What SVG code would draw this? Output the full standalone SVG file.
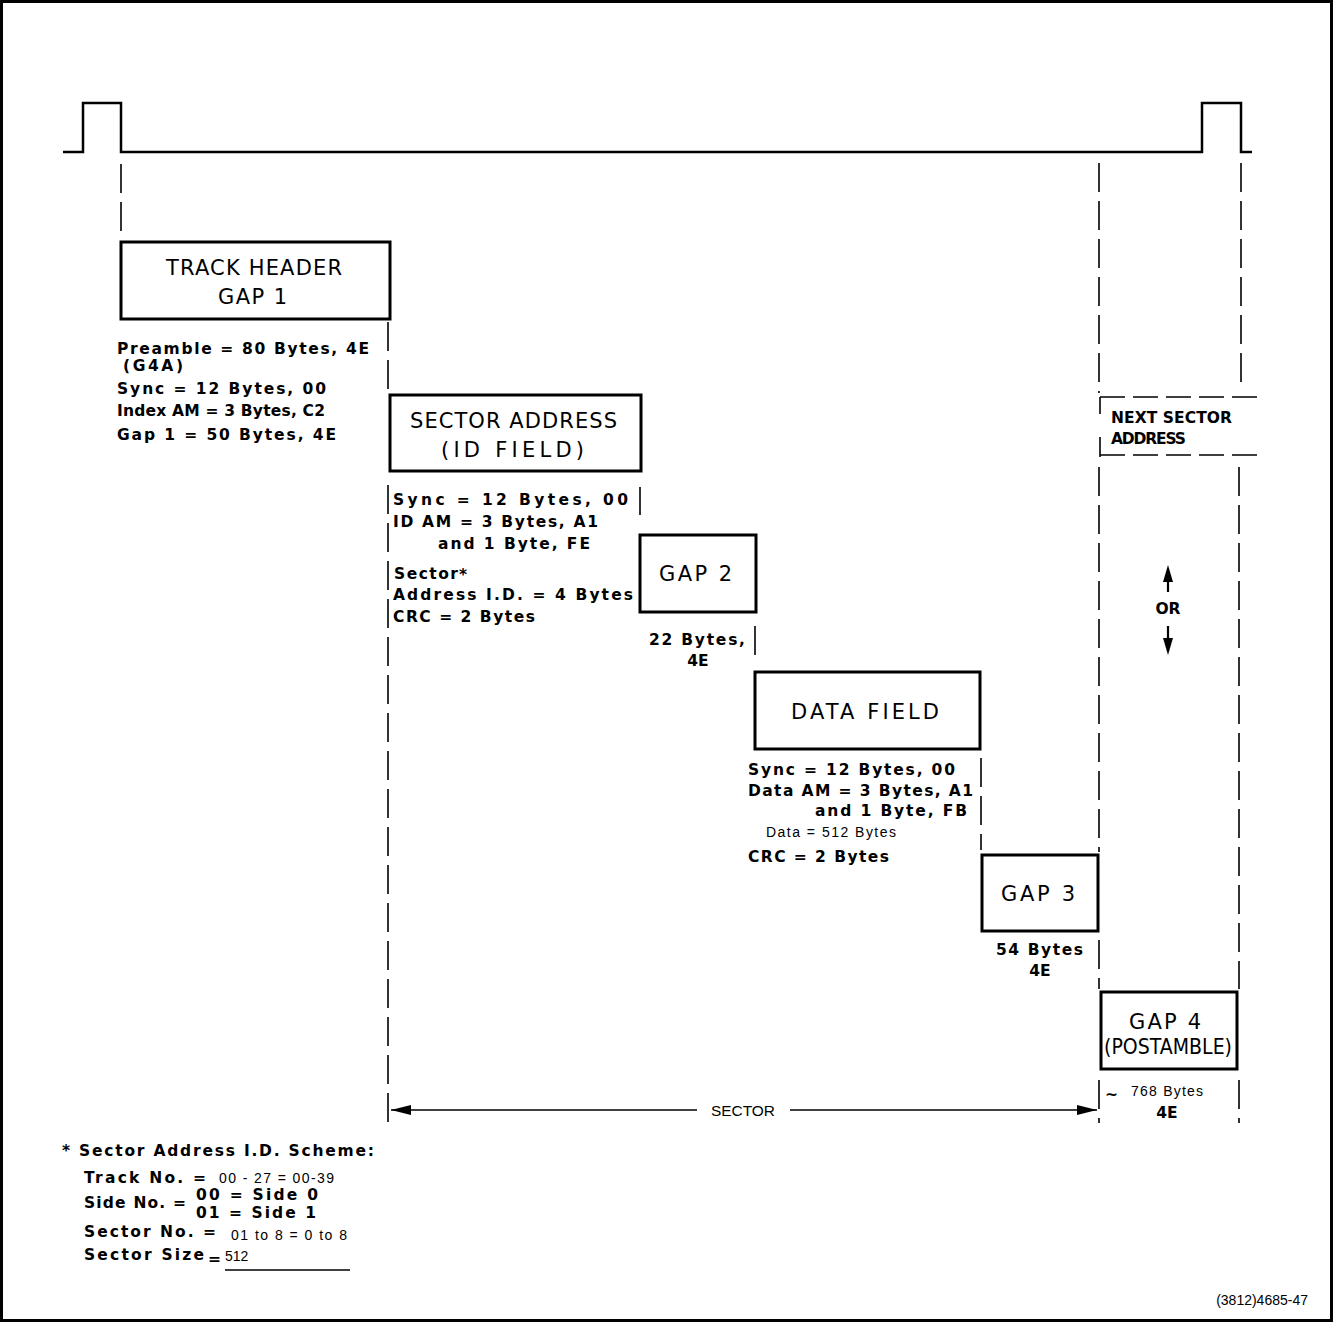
<svg xmlns="http://www.w3.org/2000/svg" width="1334" height="1323" viewBox="0 0 1334 1323">
<style>
.box{fill:#fff;stroke:#000;stroke-width:3}
.lbl{font-family:"DejaVu Sans","Liberation Sans",Arial,sans-serif;font-size:21px;fill:#000}
.sm{font-family:"DejaVu Sans","Liberation Sans",Arial,sans-serif;font-size:15.5px;font-weight:bold;fill:#000}
.rg{font-family:"Liberation Sans",Arial,sans-serif;font-size:14px;fill:#000}
.dash{stroke:#000;stroke-width:1.6;stroke-dasharray:29 9;fill:none}
.hd{stroke:#000;stroke-width:1.6;stroke-dasharray:25 8;fill:none}
.solid{stroke:#000;fill:none}
</style>
<defs>
<marker id="ah" viewBox="0 0 20 10" refX="20" refY="5" markerWidth="20" markerHeight="10" markerUnits="userSpaceOnUse" orient="auto">
<path d="M0,0 L20,5 L0,10 z" fill="#000"/>
</marker>
</defs>
<rect x="0" y="0" width="1334" height="1323" fill="#fff"/>
<rect x="1.5" y="1.5" width="1330" height="1319" fill="none" stroke="#000" stroke-width="3"/>

<g id="connectors">
<path class="solid" stroke-width="2.5" d="M63,152 H83 V103 H121 V152 H1202 V103 H1241 V152 H1252"/>
<line class="dash" x1="121" y1="164" x2="121" y2="240"/>
<line class="dash" x1="388" y1="322" x2="388" y2="392"/>
<line class="dash" x1="388" y1="485" x2="388" y2="1123"/>
<line class="dash" x1="640" y1="487" x2="640" y2="515"/>
<line class="dash" x1="755" y1="626" x2="755" y2="655"/>
<line class="dash" x1="981" y1="758" x2="981" y2="850"/>
<line class="dash" x1="1099" y1="163" x2="1099" y2="393"/>
<line class="dash" x1="1099" y1="467" x2="1099" y2="852"/>
<line class="dash" x1="1099" y1="940" x2="1099" y2="989"/>
<line class="dash" x1="1099" y1="1080" x2="1099" y2="1123"/>
<line class="dash" x1="1241" y1="163" x2="1241" y2="385"/>
<line class="dash" x1="1239" y1="467" x2="1239" y2="989"/>
<line class="dash" x1="1239" y1="1080" x2="1239" y2="1123"/>
<line class="hd" x1="1100" y1="397" x2="1262" y2="397"/>
<line class="hd" x1="1100" y1="455" x2="1262" y2="455"/>
<line class="solid" stroke-width="1.6" x1="1100" y1="397" x2="1100" y2="414"/>
<line class="solid" stroke-width="1.6" x1="1100" y1="437" x2="1100" y2="457"/>
<line class="solid" stroke-width="1.6" x1="697" y1="1110" x2="391" y2="1110" marker-end="url(#ah)"/>
<line class="solid" stroke-width="1.6" x1="790" y1="1110" x2="1097" y2="1110" marker-end="url(#ah)"/>
<line class="solid" stroke-width="2.2" x1="1168" y1="592" x2="1168" y2="578"/>
<polygon points="1168,565 1163,582 1173,582" fill="#000"/>
<line class="solid" stroke-width="2.2" x1="1168" y1="626" x2="1168" y2="640"/>
<polygon points="1168,655 1163,638 1173,638" fill="#000"/>
<text class="rg" x="743" y="1116" font-size="15" text-anchor="middle" textLength="64" lengthAdjust="spacingAndGlyphs">SECTOR</text>
<text class="sm" x="1168" y="614" text-anchor="middle" font-size="14">OR</text>
</g>

<g id="track-header">
<rect class="box" x="121" y="242" width="269" height="77"/>
<text class="lbl" x="166" y="275" textLength="176" lengthAdjust="spacing">TRACK HEADER</text>
<text class="lbl" x="218" y="304" textLength="69" lengthAdjust="spacing">GAP 1</text>
<text class="sm" x="117" y="354" textLength="252" lengthAdjust="spacing">Preamble = 80 Bytes, 4E</text>
<text class="sm" x="123" y="371" font-size="13.5" textLength="60" lengthAdjust="spacing">(G4A)</text>
<text class="sm" x="117" y="394" textLength="209" lengthAdjust="spacing">Sync = 12 Bytes, 00</text>
<text class="sm" x="117" y="416" textLength="208" lengthAdjust="spacing">Index AM = 3 Bytes, C2</text>
<text class="sm" x="117" y="440" textLength="219" lengthAdjust="spacing">Gap 1 = 50 Bytes, 4E</text>
</g>

<g id="sector-address">
<rect class="box" x="390" y="395" width="251" height="76"/>
<text class="lbl" x="410" y="428" textLength="207" lengthAdjust="spacing">SECTOR ADDRESS</text>
<text class="lbl" x="441" y="457" textLength="143" lengthAdjust="spacing">(ID FIELD)</text>
<text class="sm" x="393" y="505" textLength="235" lengthAdjust="spacing">Sync = 12 Bytes, 00</text>
<text class="sm" x="393" y="527" textLength="205" lengthAdjust="spacing">ID AM = 3 Bytes, A1</text>
<text class="sm" x="438" y="549" textLength="152" lengthAdjust="spacing">and 1 Byte, FE</text>
<text class="sm" x="394" y="579" textLength="64" lengthAdjust="spacing">Sector</text>
<text class="sm" x="459" y="580" font-size="22">*</text>
<text class="sm" x="393" y="600" textLength="240" lengthAdjust="spacing">Address I.D. = 4 Bytes</text>
<text class="sm" x="393" y="622" textLength="142" lengthAdjust="spacing">CRC = 2 Bytes</text>
</g>

<g id="gap2">
<rect class="box" x="640" y="535" width="116" height="77"/>
<text class="lbl" x="659" y="581" textLength="73" lengthAdjust="spacing">GAP 2</text>
<text class="sm" x="649" y="645" textLength="96" lengthAdjust="spacing">22 Bytes,</text>
<text class="sm" x="698" y="666" text-anchor="middle">4E</text>
</g>

<g id="data-field">
<rect class="box" x="755" y="672" width="225" height="77"/>
<text class="lbl" x="791" y="719" textLength="148" lengthAdjust="spacing">DATA FIELD</text>
<text class="sm" x="748" y="775" textLength="207" lengthAdjust="spacing">Sync = 12 Bytes, 00</text>
<text class="sm" x="748" y="796" textLength="225" lengthAdjust="spacing">Data AM = 3 Bytes, A1</text>
<text class="sm" x="815" y="816" textLength="152" lengthAdjust="spacing">and 1 Byte, FB</text>
<text class="rg" x="766" y="837" textLength="130" lengthAdjust="spacing">Data = 512 Bytes</text>
<text class="sm" x="748" y="862" textLength="141" lengthAdjust="spacing">CRC = 2 Bytes</text>
</g>

<g id="gap3">
<rect class="box" x="982" y="855" width="116" height="76"/>
<text class="lbl" x="1001" y="901" textLength="74" lengthAdjust="spacing">GAP 3</text>
<text class="sm" x="996" y="955" textLength="87" lengthAdjust="spacing">54 Bytes</text>
<text class="sm" x="1040" y="976" text-anchor="middle">4E</text>
</g>

<g id="next-sector-address">
<text class="sm" x="1111" y="423" textLength="121" lengthAdjust="spacing">NEXT SECTOR</text>
<text class="sm" x="1111" y="444" textLength="75" lengthAdjust="spacing">ADDRESS</text>
</g>

<g id="gap4">
<rect class="box" x="1101" y="992" width="136" height="77"/>
<text class="lbl" x="1129" y="1029" font-size="20" textLength="72" lengthAdjust="spacing">GAP 4</text>
<text class="lbl" x="1104" y="1054" font-size="20" textLength="128" lengthAdjust="spacingAndGlyphs">(POSTAMBLE)</text>
<text class="sm" x="1105" y="1100" font-size="18" textLength="13" lengthAdjust="spacingAndGlyphs">~</text>
<text class="rg" x="1131" y="1096" textLength="72" lengthAdjust="spacing">768 Bytes</text>
<text class="sm" x="1167" y="1118" text-anchor="middle">4E</text>
</g>

<g id="footnote">
<text class="sm" x="62" y="1156" textLength="312" lengthAdjust="spacing">* Sector Address I.D. Scheme:</text>
<text class="sm" x="84" y="1183" textLength="122" lengthAdjust="spacing">Track No. =</text>
<text class="rg" x="219" y="1183" textLength="115" lengthAdjust="spacing">00 - 27 = 00-39</text>
<text class="sm" x="84" y="1208" textLength="102" lengthAdjust="spacing">Side No. =</text>
<text class="sm" x="196" y="1200" textLength="122" lengthAdjust="spacing">00 = Side 0</text>
<text class="sm" x="196" y="1218" textLength="120" lengthAdjust="spacing">01 = Side 1</text>
<text class="sm" x="84" y="1237" textLength="132" lengthAdjust="spacing">Sector No. =</text>
<text class="rg" x="231" y="1240" textLength="116" lengthAdjust="spacing">01 to 8 = 0 to 8</text>
<text class="sm" x="84" y="1260" textLength="120" lengthAdjust="spacing">Sector Size</text>
<text class="sm" x="208" y="1264" font-size="12">=</text>
<text class="rg" x="225" y="1261">512</text>
<line class="solid" stroke-width="1.5" x1="225" y1="1270" x2="350" y2="1270"/>
</g>

<text class="rg" x="1308" y="1305" text-anchor="end" font-size="13">(3812)4685-47</text>
</svg>
